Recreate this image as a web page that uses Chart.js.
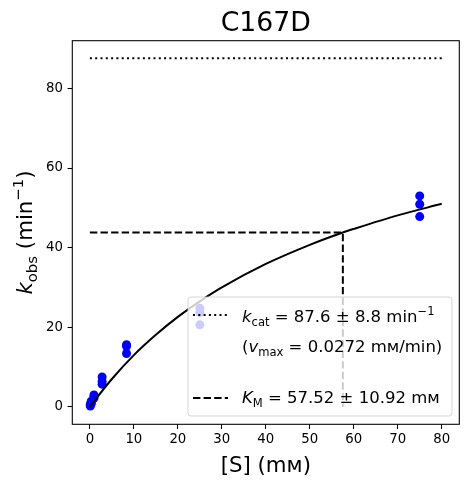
<!DOCTYPE html>
<html>
<head>
<meta charset="utf-8">
<script src="https://cdn.jsdelivr.net/npm/chart.js@4.4.1/dist/chart.umd.min.js"></script>
<style>
  body { margin: 0; background: #fff; }
  #wrap { width: 469px; height: 484px; position: relative; }
</style>
</head>
<body>
<div id="wrap"><canvas id="chart"></canvas></div>
<script>
// Substrate concentrations (mM) and observed rates (min^-1), triplicates
const substrate = [0.1, 0.1, 0.1, 0.31, 0.31, 0.31, 0.93, 0.93, 0.93,
                   2.78, 2.78, 2.78, 8.33, 8.33, 8.33, 25, 25, 25, 75, 75, 75];
const kobs = [0.2, 0.4, 0.6, 0.8, 1.1, 1.4, 2.2, 2.6, 3.0,
              5.7, 6.4, 7.5, 13.4, 15.2, 15.6, 20.6, 23.7, 24.8, 47.8, 50.9, 53.0];

// Fitted Michaelis-Menten curve
const fitX = [0, 2, 5, 10, 15, 20, 25, 30, 40, 50, 57.52, 60, 70, 80];
const fitY = [0, 2.9, 7.0, 13.0, 18.1, 22.6, 26.5, 30.0, 35.9, 40.7, 43.8, 44.7, 48.1, 51.0];

// Fit parameters
const kcat = 87.6;
const km = 57.52;
const kmHalf = 43.8;
const kcatLineX = [0, 80];

const xTickValues = [0, 10, 20, 30, 40, 50, 60, 70, 80];
const yTickValues = [0, 20, 40, 60, 80];

const FONT = "'DejaVu Sans', sans-serif";

const zip = (xs, ys) => xs.map((x, i) => ({ x: x, y: ys[i] }));

// draw text made of roman / italic / sub / sup pieces
function richWidth(ctx, parts, size) {
  let w = 0;
  parts.forEach(p => {
    const s = (p.sub || p.sup) ? size * 0.7 : size;
    ctx.font = (p.it ? 'italic ' : '') + s + 'px ' + FONT;
    w += ctx.measureText(p.t).width;
  });
  return w;
}
function drawRich(ctx, parts, x, y, size) {
  ctx.textBaseline = 'alphabetic';
  ctx.textAlign = 'left';
  parts.forEach(p => {
    const s = (p.sub || p.sup) ? size * 0.7 : size;
    ctx.font = (p.it ? 'italic ' : '') + s + 'px ' + FONT;
    let dy = 0;
    if (p.sub) dy = size * 0.22;
    if (p.sup) dy = -size * 0.42;
    ctx.fillText(p.t, x, y + dy);
    x += ctx.measureText(p.t).width;
  });
}

const decorations = {
  id: 'decorations',
  afterDraw(chart) {
    const ctx = chart.ctx;
    const a = chart.chartArea;
    ctx.save();
    ctx.fillStyle = '#000';

    // title
    ctx.font = '26.7px ' + FONT;
    ctx.textAlign = 'center';
    ctx.textBaseline = 'alphabetic';
    ctx.fillText('C167D', (a.left + a.right) / 2, 31);

    // x axis title
    ctx.font = '21.3px ' + FONT;
    ctx.fillText('[S] (mᴍ)', (a.left + a.right) / 2, 472);

    // y axis title
    const yParts = [{ t: 'k', it: true }, { t: 'obs', sub: true }, { t: ' (min' },
                    { t: '−1', sup: true }, { t: ')' }];
    const yw = richWidth(ctx, yParts, 21.3);
    ctx.save();
    ctx.translate(32, (a.top + a.bottom) / 2);
    ctx.rotate(-Math.PI / 2);
    drawRich(ctx, yParts, -yw / 2, 0, 21.3);
    ctx.restore();

    // frame
    ctx.strokeStyle = '#000';
    ctx.lineWidth = 1.07;
    ctx.strokeRect(a.left, a.top, a.right - a.left, a.bottom - a.top);

    // legend
    const lx = 188, ly = 297, lw = 264, lh = 119, r = 3;
    ctx.beginPath();
    ctx.roundRect(lx, ly, lw, lh, r);
    ctx.fillStyle = 'rgba(255,255,255,0.8)';
    ctx.fill();
    ctx.strokeStyle = 'rgba(204,204,204,0.8)';
    ctx.lineWidth = 1;
    ctx.stroke();

    ctx.strokeStyle = '#000';
    ctx.lineWidth = 2;
    ctx.setLineDash([2, 3.3]);
    ctx.beginPath();
    ctx.moveTo(193, 315);
    ctx.lineTo(228, 315);
    ctx.stroke();
    ctx.setLineDash([7.4, 3.2]);
    ctx.beginPath();
    ctx.moveTo(193, 398);
    ctx.lineTo(228, 398);
    ctx.stroke();
    ctx.setLineDash([]);

    ctx.fillStyle = '#000';
    drawRich(ctx, [{ t: 'k', it: true }, { t: 'cat', sub: true },
                   { t: ' = ' + kcat + ' ± 8.8 min' }, { t: '−1', sup: true }], 242, 322, 16.5);
    drawRich(ctx, [{ t: '(' }, { t: 'v', it: true }, { t: 'max', sub: true },
                   { t: ' = 0.0272 mᴍ/min)' }], 242, 352, 16.5);
    drawRich(ctx, [{ t: 'K', it: true }, { t: 'M', sub: true },
                   { t: ' = ' + km + ' ± 10.92 mᴍ' }], 242, 403, 16.5);
    ctx.restore();
  }
};

new Chart(document.getElementById('chart'), {
  type: 'scatter',
  data: {
    datasets: [
      {
        label: 'data',
        data: zip(substrate, kobs),
        backgroundColor: '#0000ff',
        borderColor: '#0000ff',
        pointRadius: 4.5,
        pointBorderWidth: 0,
        order: 5
      },
      {
        label: 'fit',
        data: zip(fitX, fitY),
        showLine: true,
        borderColor: '#000',
        borderWidth: 2,
        pointRadius: 0,
        cubicInterpolationMode: 'monotone',
        order: 1
      },
      {
        label: 'kcat',
        data: kcatLineX.map(x => ({ x: x, y: kcat })),
        showLine: true,
        borderColor: '#000',
        borderWidth: 2,
        borderDash: [2, 3.3],
        pointRadius: 0,
        order: 2
      },
      {
        label: 'KM',
        data: [{ x: 0, y: kmHalf }, { x: km, y: kmHalf }, { x: km, y: 0 }],
        showLine: true,
        borderColor: '#000',
        borderWidth: 2,
        borderDash: [7.4, 3.2],
        pointRadius: 0,
        order: 3
      }
    ]
  },
  options: {
    responsive: true,
    maintainAspectRatio: false,
    animation: false,
    layout: { padding: { top: 40.7, right: 9.7, left: 0, bottom: 0 } },
    plugins: {
      legend: { display: false },
      title: { display: false },
      tooltip: { enabled: false }
    },
    scales: {
      x: {
        type: 'linear',
        min: -4,
        max: 84,
        afterBuildTicks: axis => { axis.ticks = xTickValues.map(v => ({ value: v })); },
        afterFit: axis => { axis.height = 59.7; },
        grid: { drawOnChartArea: false, color: '#000', tickLength: 4.7, tickWidth: 1.07 },
        border: { display: false },
        ticks: { color: '#000', padding: 3, maxRotation: 0, font: { family: FONT, size: 13.3 } }
      },
      y: {
        type: 'linear',
        min: -4.38,
        max: 91.98,
        afterBuildTicks: axis => { axis.ticks = yTickValues.map(v => ({ value: v })); },
        afterFit: axis => { axis.width = 72.3; },
        grid: { drawOnChartArea: false, color: '#000', tickLength: 4.7, tickWidth: 1.07 },
        border: { display: false },
        ticks: { color: '#000', padding: 4.7, font: { family: FONT, size: 13.3 } }
      }
    }
  },
  plugins: [decorations]
});
</script>
</body>
</html>
